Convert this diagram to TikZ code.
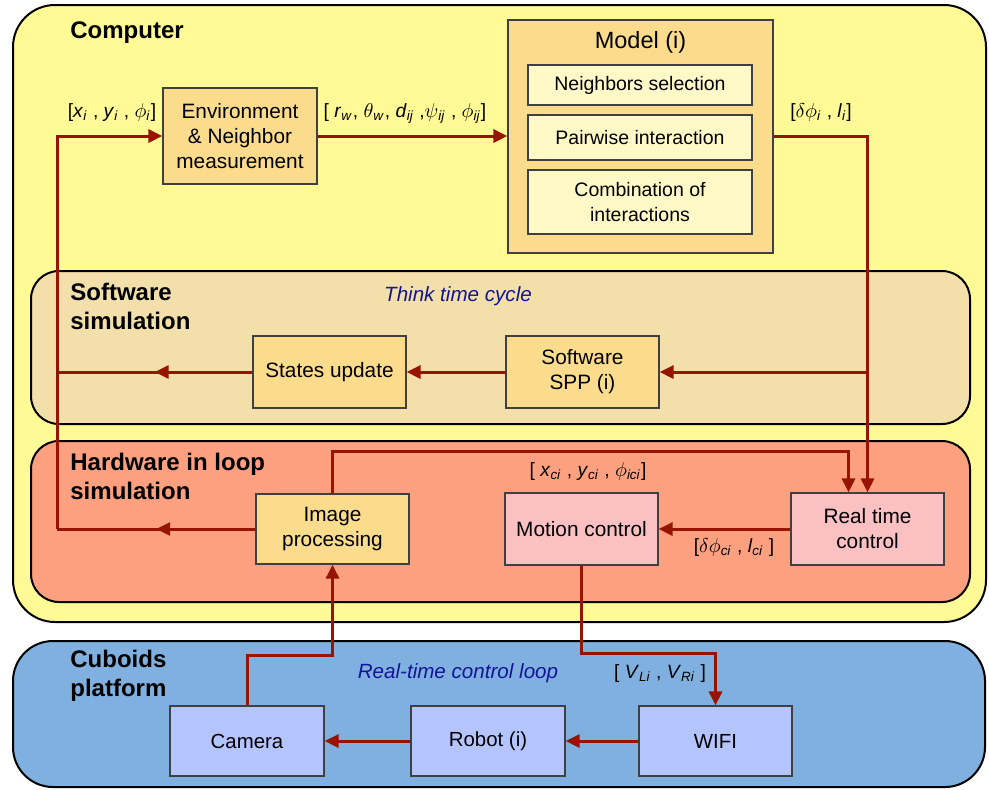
\documentclass[tikz,border=0pt]{standalone}
\usepackage{fontspec}
\setmainfont{Liberation Sans}
\usetikzlibrary{arrows.meta,decorations.markings,calc}
\definecolor{cComp}{RGB}{255,250,150}
\definecolor{cSoft}{RGB}{243,223,170}
\definecolor{cHard}{RGB}{252,160,128}
\definecolor{cCub}{RGB}{128,176,224}
\definecolor{cBox}{RGB}{250,220,140}
\definecolor{cSub}{RGB}{255,249,200}
\definecolor{cPink}{RGB}{250,192,194}
\definecolor{cBlueBox}{RGB}{180,196,255}
\definecolor{cWire}{RGB}{150,20,0}
\definecolor{cNote}{RGB}{20,20,150}
\newcommand\sv[2]{\textit{#1}\textsubscript{\textit{#2}}}
\newcommand\sg[2]{$#1$\textsubscript{\textit{#2}}}
\tikzset{
  container/.style={draw=black, line width=1pt},
  blk/.style={draw=black!75, line width=0.6pt, fill=cBox, align=center, inner sep=1pt,
    font=\fontsize{10.4}{12.5}\selectfont},
  subblk/.style={blk, fill=cSub, font=\fontsize{9.75}{12.5}\selectfont},
  pinkblk/.style={blk, fill=cPink},
  blueblk/.style={blk, fill=cBlueBox, font=\fontsize{10.2}{12.5}\selectfont},
  wire/.style={draw=cWire, line width=1.5pt},
  tip/.style={wire, -{Triangle[length=7pt,width=6.5pt]}},
  midtip/.style={wire, postaction={decorate}, decoration={markings,
      mark=at position 0.5 with {\arrow{Triangle[length=7pt,width=6.5pt]}}}},
  title/.style={font=\fontsize{12}{14.5}\selectfont\bfseries, align=left, anchor=west, inner sep=0pt},
  lbl/.style={font=\fontsize{9.6}{11}\selectfont, inner sep=0pt},
  note/.style={font=\fontsize{10.3}{12}\selectfont\itshape, text=cNote, inner sep=0pt}
}
\begin{document}
\begin{tikzpicture}[x=0.5pt,y=-0.5pt]
\useasboundingbox (0,0) rectangle (989,789);
% containers
\draw[container, fill=cComp, rounded corners=21pt] (13,5) rectangle (986,622);
\draw[container, fill=cSoft, rounded corners=14pt] (31,271) rectangle (970,424);
\draw[container, fill=cHard, rounded corners=14pt] (31,441) rectangle (970,602);
\draw[container, fill=cCub, rounded corners=20pt] (13,641) rectangle (985,787);
% section titles
\node[title] (tcomp) at (70,33) {Computer};
\node[title] (tsoft) at (70,306) {Software\\simulation};
\node[title] (thard) at (70,476) {Hardware in loop\\simulation};
\node[title] (tcub) at (70,676) {Cuboids\\platform};
% blocks
\node[blk, minimum width=77pt, minimum height=48pt] (env) at (240,136) {Environment\\\& Neighbor\\measurement};
\node[blk, minimum width=132.5pt, minimum height=116.5pt] (model) at (640.5,136.5) {};
\node[font=\fontsize{11.75}{14}\selectfont, inner sep=0pt] (mtitle) at (640.5,42) {Model (i)};
\node[subblk, minimum width=112pt, minimum height=20pt] (nsel) at (640,85) {Neighbors selection};
\node[subblk, minimum width=112pt, minimum height=22.5pt] (pair) at (640,137.5) {Pairwise interaction};
\node[subblk, minimum width=112pt, minimum height=32pt] (comb) at (640,202) {Combination of\\interactions};
\node[blk, minimum width=76.5pt, minimum height=36pt] (states) at (329.5,372) {States update};
\node[blk, minimum width=76.5pt, minimum height=36pt] (spp) at (582.5,372) {Software\\SPP (i)};
\node[blk, minimum width=76.5pt, minimum height=35pt] (img) at (332.5,529) {Image\\processing};
\node[pinkblk, minimum width=76.5pt, minimum height=36pt] (motion) at (581.5,529) {Motion control};
\node[pinkblk, minimum width=76.5pt, minimum height=36pt] (rtc) at (867.5,529) {Real time\\control};
\node[blueblk, minimum width=77pt, minimum height=35pt] (camera) at (247,741) {Camera};
\node[blueblk, minimum width=77pt, minimum height=35pt] (robot) at (488,741) {Robot (i)};
\node[blueblk, minimum width=76.5pt, minimum height=35pt] (wifi) at (715.5,741) {WIFI};
% notes
\node[note] (think) at (458,296) {Think time cycle};
\node[note] (rtloop) at (458,673) {Real-time control loop};
% labels
\node[lbl] (l1) at (112,113) {[\sv{x}{i} , \sv{y}{i} , \sg{\phi}{i}]};
\node[lbl] (l2) at (405,113) {[ \sv{r}{w}, \sg{\theta}{w}, \sv{d}{ij} ,\sg{\psi}{ij} , \sg{\phi}{ij}]};
\node[lbl] (l3) at (821,113) {[$\delta$\sg{\phi}{i} , \sv{l}{i}]};
\node[lbl] (l4) at (588,472) {[ \sv{x}{ci} , \sv{y}{ci} , \sg{\phi}{ici}]};
\node[lbl] (l5) at (734,548) {[$\delta$\sg{\phi}{ci} , \sv{l}{ci} ]};
\node[lbl] (l6) at (660,674) {[ \sv{V}{Li} , \sv{V}{Ri} ]};
% junction coordinates
\coordinate (jb) at (57,529);
\coordinate (jm) at (57,372);
\coordinate (jr) at (rtc.north |- spp.east);
% connectors
\draw[midtip] (img.west) -- (jb);
\draw[tip] (jb) |- (env.west);
\draw[midtip] (states.west) -- (jm);
\draw[tip] (env.east) -- (env.east -| model.west);
\draw[tip] (model.east |- env.east) -| (rtc.north);
\draw[tip] (jr) -- (spp.east);
\draw[tip] (spp.west) -- (states.east);
\draw[tip] (img.north) -- ++(0,-42) -| ([xshift=-9.5pt]rtc.north);
\draw[tip] (rtc.west) -- (motion.east);
\draw[tip] (motion.south) -- ++(0,88) -| (wifi.north);
\draw[tip] (wifi.west) -- (robot.east);
\draw[tip] (robot.west) -- (camera.east);
\draw[tip] (camera.north) -- ++(0,-50) -| (img.south);
\end{tikzpicture}
\end{document}
